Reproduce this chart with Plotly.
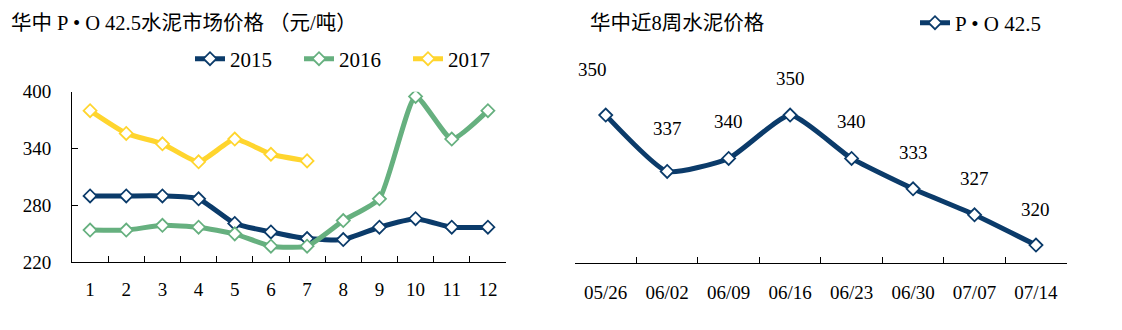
import plotly.graph_objects as go

# ---------------- data ----------------
months = ["1", "2", "3", "4", "5", "6", "7", "8", "9", "10", "11", "12"]
price_2015 = [290, 290, 290, 287, 261, 252, 245, 244, 257, 266, 257, 257]
price_2016 = [254, 254, 259, 257, 250, 237, 237, 264, 287, 395, 350, 380]
price_2017 = [380, 356, 345, 326, 350, 334, 327]

weeks = ["05/26", "06/02", "06/09", "06/16", "06/23", "06/30", "07/07", "07/14"]
weekly_price = [350, 337, 340, 350, 340, 333, 327, 320]

# ---------------- styles ----------------
NAVY = "#0B3B6A"
GREEN = "#66B07F"
YELLOW = "#FFD52E"
FONT = "Liberation Serif, Noto Sans CJK SC, serif"

fig = go.Figure()

def add_series(x, y, name, color, xaxis, yaxis, legend):
    fig.add_trace(go.Scatter(
        x=x, y=y, name=name, mode="lines+markers",
        line=dict(color=color, width=5, shape="spline", smoothing=0.5),
        marker=dict(symbol="diamond", size=10, color="white",
                    line=dict(color=color, width=1.8)),
        xaxis=xaxis, yaxis=yaxis, legend=legend,
    ))

add_series(months, price_2015, "2015", NAVY, "x", "y", "legend")
add_series(months, price_2016, "2016", GREEN, "x", "y", "legend")
add_series(months[:len(price_2017)], price_2017, "2017", YELLOW, "x", "y", "legend")
add_series(weeks, weekly_price, "P • O 42.5", NAVY, "x2", "y2", "legend2")

# data labels for the weekly chart
label_xshift = [-13, 0, 0, 0, 0, 0, 0, 0]
label_yshift = [46, 43, 37, 37, 37, 36, 36, 36]
for i, (w, v) in enumerate(zip(weeks, weekly_price)):
    fig.add_annotation(x=w, y=v, xref="x2", yref="y2", text=str(v),
                       showarrow=False, xshift=label_xshift[i], yshift=label_yshift[i],
                       font=dict(family=FONT, size=19, color="black"))

W, H = 1122, 330
fig.update_layout(
    width=W, height=H,
    margin=dict(l=0, r=0, t=0, b=0, autoexpand=False),
    paper_bgcolor="white", plot_bgcolor="white",
    font=dict(family=FONT, size=19, color="black"),
    showlegend=True,
    xaxis=dict(domain=[72 / W, 506 / W], type="category", tickson="boundaries",
               showline=True, linecolor="black", linewidth=1,
               ticks="inside", ticklen=6, tickcolor="black",
               showgrid=False, zeroline=False, ticklabelstandoff=10,
               range=[-0.5, 11.5], anchor="y", automargin=False),
    yaxis=dict(domain=[1 - 262.3 / H, 1 - 91.7 / H], range=[220, 400],
               tickvals=[220, 280, 340, 400],
               showline=True, linecolor="black", linewidth=1,
               ticks="inside", ticklen=6, tickcolor="black",
               showgrid=False, zeroline=False, ticklabelstandoff=16, anchor="x",
               automargin=False),
    xaxis2=dict(domain=[575 / W, 1066.7 / W], type="category", tickson="boundaries",
                showline=True, linecolor="black", linewidth=1,
                ticks="inside", ticklen=6, tickcolor="black",
                showgrid=False, zeroline=False, ticklabelstandoff=12,
                range=[-0.5, 7.5], anchor="y2", automargin=False),
    yaxis2=dict(domain=[1 - 263.3 / H, 1 - 91.7 / H], range=[315.8, 355.4],
                visible=False, anchor="x2", automargin=False),
    legend=dict(orientation="h", x=190 / W, xanchor="left", y=1 - 59 / H, yanchor="middle",
                font=dict(family=FONT, size=21), bgcolor="rgba(0,0,0,0)",
                entrywidth=64, entrywidthmode="pixels", itemwidth=30,
                tracegroupgap=0),
    legend2=dict(orientation="h", x=915 / W, xanchor="left", y=1 - 23 / H, yanchor="middle",
                 font=dict(family=FONT, size=21), bgcolor="rgba(0,0,0,0)", itemwidth=30),
)

fig.add_annotation(text="华中 P • O 42.5水泥市场价格 （元/吨）", xref="paper", yref="paper",
                   x=9 / W, y=1 - 23 / H, xanchor="left", yanchor="middle", showarrow=False,
                   font=dict(family=FONT, size=20.5, color="black"))
fig.add_annotation(text="华中近8周水泥价格", xref="paper", yref="paper",
                   x=588 / W, y=1 - 23 / H, xanchor="left", yanchor="middle", showarrow=False,
                   font=dict(family=FONT, size=20.5, color="black"))

fig.write_html("out.html")
